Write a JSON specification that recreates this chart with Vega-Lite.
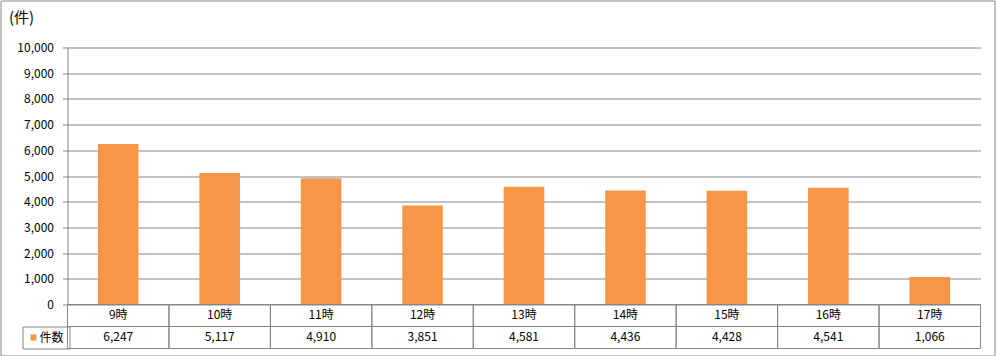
{
  "$schema": "https://vega.github.io/schema/vega-lite/v6.json",
  "width": 994,
  "height": 355,
  "autosize": {"type": "none"},
  "padding": {"left": 0.5, "top": 0.5, "right": 1.5, "bottom": 0.5},
  "background": "#ffffff",
  "config": {
    "view": {"stroke": "#868686", "strokeWidth": 1},
    "font": "Noto Sans CJK JP"
  },
  "data": {
    "values": [
      {"hour": "9時", "count": 6247, "series": "件数"},
      {"hour": "10時", "count": 5117, "series": "件数"},
      {"hour": "11時", "count": 4910, "series": "件数"},
      {"hour": "12時", "count": 3851, "series": "件数"},
      {"hour": "13時", "count": 4581, "series": "件数"},
      {"hour": "14時", "count": 4436, "series": "件数"},
      {"hour": "15時", "count": 4428, "series": "件数"},
      {"hour": "16時", "count": 4541, "series": "件数"},
      {"hour": "17時", "count": 1066, "series": "件数"}
    ]
  },
  "resolve": {"axis": {"y": "independent"}},
  "encoding": {
    "x": {
      "field": "hour",
      "type": "nominal",
      "sort": null,
      "scale": {"range": [67, 980], "paddingInner": 0, "paddingOuter": 0},
      "axis": null
    }
  },
  "layer": [
    {
      "mark": {"type": "bar", "width": {"band": 0.4}},
      "encoding": {
        "y": {
          "field": "count",
          "type": "quantitative",
          "scale": {"domain": [0, 10000], "range": [304, 47], "nice": false, "zero": false},
          "axis": {
            "orient": "left",
            "offset": -67,
            "values": [0, 1000, 2000, 3000, 4000, 5000, 6000, 7000, 8000, 9000, 10000],
            "format": ",.0f",
            "labelOverlap": false,
            "grid": true,
            "gridColor": "#868686",
            "gridWidth": 1,
            "domain": true,
            "domainColor": "#868686",
            "ticks": true,
            "tickColor": "#868686",
            "tickSize": 5,
            "labelPadding": 9,
            "labelFont": "Noto Sans CJK JP",
            "labelFontSize": 12,
            "labelColor": "#000000",
            "title": "(件)",
            "titleAngle": 0,
            "titleAlign": "left",
            "titleBaseline": "middle",
            "titleX": -59,
            "titleY": 16.5,
            "titleFont": "Noto Sans CJK JP",
            "titleFontSize": 15,
            "titleFontWeight": "normal",
            "titleColor": "#000000"
          }
        },
        "color": {
          "field": "series",
          "type": "nominal",
          "scale": {"range": ["#F79646"]},
          "legend": {
            "orient": "none",
            "legendX": 22,
            "legendY": 326,
            "title": null,
            "symbolType": "square",
            "symbolSize": 36,
            "symbolStrokeWidth": 0,
            "labelFont": "Noto Sans CJK JP",
            "labelFontSize": 12,
            "labelColor": "#000000",
            "labelOffset": 0,
            "padding": 5,
            "strokeColor": "#868686"
          }
        }
      }
    },
    {
      "mark": {"type": "rect", "filled": false, "stroke": "#868686", "strokeWidth": 1},
      "encoding": {
        "y": {"datum": 0, "axis": null},
        "y2": {"datum": -856}
      }
    },
    {
      "mark": {"type": "rect", "filled": false, "stroke": "#868686", "strokeWidth": 1},
      "encoding": {
        "y": {"datum": -856, "axis": null},
        "y2": {"datum": -1712}
      }
    },
    {
      "mark": {"type": "text", "font": "Noto Sans CJK JP", "fontSize": 12, "color": "#000000", "baseline": "middle", "align": "center"},
      "encoding": {
        "y": {"datum": -428, "axis": null},
        "text": {"field": "hour", "type": "nominal"}
      }
    },
    {
      "mark": {"type": "text", "font": "Noto Sans CJK JP", "fontSize": 12, "color": "#000000", "baseline": "middle", "align": "center"},
      "encoding": {
        "y": {"datum": -1284, "axis": null},
        "text": {"field": "count", "type": "quantitative", "format": ","}
      }
    }
  ]
}
